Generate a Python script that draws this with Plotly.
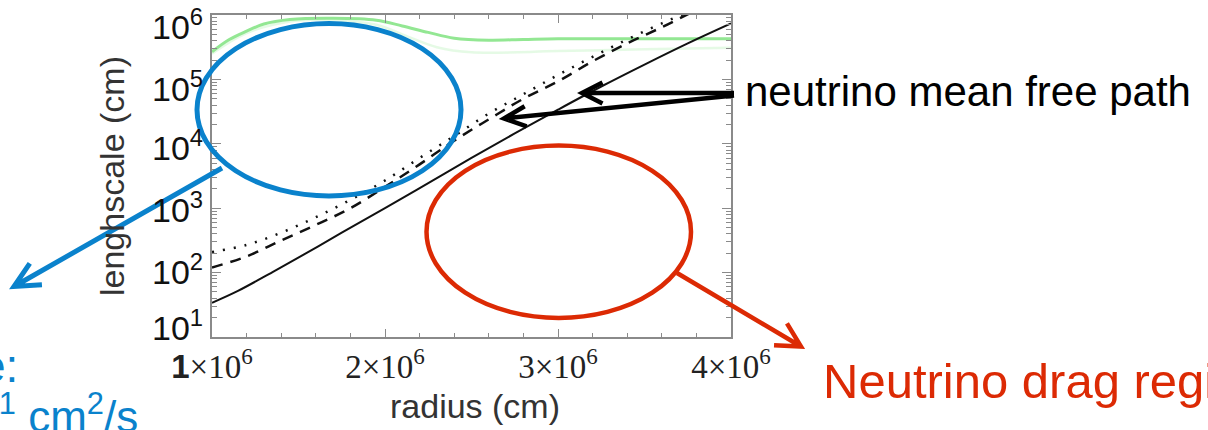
import math
import plotly.graph_objects as go

# ---- data -------------------------------------------------------------
radius_solid = [1.00e6, 1.15e6, 1.35e6, 1.55e6, 1.75e6, 2.00e6, 2.25e6, 2.50e6,
                2.75e6, 3.00e6, 3.25e6, 3.50e6, 3.75e6, 4.00e6]
mfp_solid = [34, 52, 102, 204, 417, 1000, 2450, 6030, 14500, 33900, 77600,
             170000, 363000, 741000]

radius_dash = [1.0e6, 1.2e6, 1.4e6, 1.6e6, 1.8e6, 2.0e6, 2.2e6, 2.4e6, 2.6e6,
               2.8e6, 3.0e6, 3.2e6, 3.4e6, 3.6e6, 3.8e6]
mfp_dash = [120, 178, 316, 550, 1000, 2140, 4790, 11200, 24000, 50100, 93300,
            191000, 363000, 646000, 1200000]

radius_dot = [1.0e6, 1.2e6, 1.4e6, 1.6e6, 1.8e6, 2.0e6, 2.2e6, 2.4e6, 2.6e6,
              2.8e6, 3.0e6, 3.2e6, 3.4e6, 3.6e6, 3.8e6]
mfp_dot = [209, 269, 417, 724, 1350, 2690, 6030, 13200, 29500, 58900, 117000,
           224000, 417000, 741000, 1260000]

radius_green = [1.0e6, 1.1e6, 1.2e6, 1.3e6, 1.45e6, 1.7e6, 1.95e6, 2.1e6,
                2.25e6, 2.4e6, 2.6e6, 2.8e6, 3.0e6, 3.5e6, 4.0e6]
lambda_green = [269000, 417000, 562000, 724000, 851000, 891000, 832000,
                676000, 537000, 437000, 407000, 417000, 427000, 427000, 427000]

radius_green2 = [1.0e6, 1.2e6, 1.45e6, 1.7e6, 1.95e6, 2.1e6, 2.3e6, 2.5e6,
                 3.0e6, 3.5e6, 4.0e6]
lambda_green2 = [251000, 525000, 794000, 832000, 708000, 501000, 316000,
                 263000, 275000, 295000, 309000]

x_tickvals = [1e6, 2e6, 3e6, 4e6]
x_ticktext = ['<span style="font-family:Liberation Sans"><b>1</b></span>×10<sup>6</sup>',
              "2×10<sup>6</sup>", "3×10<sup>6</sup>", "4×10<sup>6</sup>"]
y_tickvals = [1e1, 1e2, 1e3, 1e4, 1e5, 1e6]
y_ticktext = ["10<sup>1</sup>", "10<sup>2</sup>", "10<sup>3</sup>",
              "10<sup>4</sup>", "10<sup>5</sup>", "10<sup>6</sup>"]
y_minor = [m * 10 ** e for e in range(1, 6) for m in range(2, 10)]

# vertical nudges (px, up positive) for the decade labels, keeping them inside the page
y_label_nudge = [11, 3, 1, -2, -7, -9]

# ---- figure geometry (pixels) -------------------------------------------
W, H = 1208, 430
L, R, T, B = 212, 731, 15, 337


def px(x):
    return (x - L) / (R - L)


def py(y):
    return (B - y) / (B - T)


def arrow(x0, y0, x1, y1, head, half_angle):
    """Open-V arrow from (x0,y0) to tip (x1,y1), all in pixels."""
    ang = math.atan2(y0 - y1, x0 - x1)
    a = math.radians(half_angle)
    ax1 = x1 + head * math.cos(ang + a)
    ay1 = y1 + head * math.sin(ang + a)
    ax2 = x1 + head * math.cos(ang - a)
    ay2 = y1 + head * math.sin(ang - a)
    path = "M {:.5f} {:.5f} L {:.5f} {:.5f}".format(px(x0), py(y0), px(x1), py(y1))
    path += " M {:.5f} {:.5f} L {:.5f} {:.5f} L {:.5f} {:.5f}".format(
        px(ax1), py(ay1), px(x1), py(y1), px(ax2), py(ay2))
    return path


fig = go.Figure()

fig.add_trace(go.Scatter(x=radius_green2, y=lambda_green2, mode="lines",
                         line=dict(color="rgba(150,235,150,0.25)", width=2.5, shape="spline"),
                         hoverinfo="skip"))
fig.add_trace(go.Scatter(x=radius_green, y=lambda_green, mode="lines",
                         line=dict(color="#93e793", width=3, shape="spline"),
                         hoverinfo="skip"))
fig.add_trace(go.Scatter(x=radius_dot, y=mfp_dot, mode="lines",
                         line=dict(color="#111111", width=2.5, dash="2px,9px", shape="spline")))
fig.add_trace(go.Scatter(x=radius_dash, y=mfp_dash, mode="lines",
                         line=dict(color="#111111", width=2.5, dash="11px,8px", shape="spline")))
fig.add_trace(go.Scatter(x=radius_solid, y=mfp_solid, mode="lines",
                         line=dict(color="#111111", width=2, shape="spline")))

axis_grey = "#8a8a8a"
fig.update_xaxes(
    range=[1e6, 4e6], tickmode="array", tickvals=x_tickvals, ticktext=x_ticktext,
    tickfont=dict(family="Liberation Serif", size=33, color="#222222"),
    ticks="inside", ticklen=8, tickcolor=axis_grey, tickwidth=1,
    minor=dict(ticks="inside", dtick=2e5, ticklen=4, tickcolor=axis_grey, tickwidth=1),
    showline=True, linecolor=axis_grey, linewidth=1.5, mirror="ticks",
    showgrid=False, zeroline=False, ticklabeloverflow="allow", automargin=False,
)
fig.update_yaxes(
    type="log", range=[0.9999, 6.0001], tickmode="array", tickvals=y_tickvals,
    showticklabels=False,
    ticks="inside", ticklen=9, tickcolor=axis_grey, tickwidth=1,
    minor=dict(ticks="inside", tickmode="array", tickvals=y_minor, ticklen=5,
               tickcolor=axis_grey, tickwidth=1),
    showline=True, linecolor=axis_grey, linewidth=1.5, mirror="ticks",
    showgrid=False, zeroline=False, automargin=False,
)

blue = "#0a82cc"
red = "#dc2a04"
shapes = [
    dict(type="circle", xref="paper", yref="paper", x0=px(197), x1=px(461),
         y0=py(196), y1=py(23.5), line=dict(color=blue, width=5)),
    dict(type="circle", xref="paper", yref="paper", x0=px(426.5), x1=px(691),
         y0=py(318), y1=py(145.5), line=dict(color=red, width=4.5)),
    dict(type="path", xref="paper", yref="paper", path=arrow(222, 168, 14, 286.5, 28, 26),
         line=dict(color=blue, width=5)),
    dict(type="path", xref="paper", yref="paper", path=arrow(677, 273, 801, 346.5, 27, 28),
         line=dict(color=red, width=4.5)),
    dict(type="path", xref="paper", yref="paper", path=arrow(734, 93, 582, 93, 23, 27),
         line=dict(color="#000000", width=4.5)),
    dict(type="path", xref="paper", yref="paper", path=arrow(734, 95.5, 504, 118.5, 24, 25),
         line=dict(color="#000000", width=4.5)),
]

annotations = [
    dict(text="lenghscale (cm)", x=px(112), y=py(176), textangle=-90,
         font=dict(family="Liberation Sans", size=34, color="#333333")),
    dict(text="radius (cm)", x=px(475), y=py(406),
         font=dict(family="Liberation Sans", size=34, color="#333333")),
    dict(text="neutrino mean free path", x=px(744), y=py(91), xanchor="left",
         font=dict(family="Liberation Sans", size=42, color="#000000")),
    dict(text="Neutrino drag regime", x=px(822), y=py(381), xanchor="left",
         font=dict(family="Liberation Sans", size=49, color=red)),
    dict(text="Viscous regime:", x=px(19), y=py(366), xanchor="right",
         font=dict(family="Liberation Sans", size=46, color=blue)),
    dict(text="ν ~ 10<sup>10</sup>-10<sup>11</sup> cm<sup>2</sup>/s", x=px(139), y=py(413),
         xanchor="right",
         font=dict(family="Liberation Sans", size=44, color=blue)),
]
for a in annotations:
    a.update(xref="paper", yref="paper")

# decade labels of the log axis, placed at the axis' own tick values
for val, txt, nudge in zip(y_tickvals, y_ticktext, y_label_nudge):
    annotations.append(dict(
        text=txt, xref="paper", yref="y", x=0, y=math.log10(val),
        xanchor="right", xshift=-8, yshift=nudge,
        font=dict(family="Liberation Sans", size=34, color="#111111"),
    ))

for a in annotations:
    a.update(showarrow=False, borderpad=0)
    a.setdefault("xanchor", "center")
    a.setdefault("yanchor", "middle")

fig.update_layout(
    width=W, height=H, margin=dict(l=L, r=W - R, t=T, b=H - B, autoexpand=False),
    paper_bgcolor="white", plot_bgcolor="white", showlegend=False,
    shapes=shapes, annotations=annotations,
)

fig.write_html("out.html")
